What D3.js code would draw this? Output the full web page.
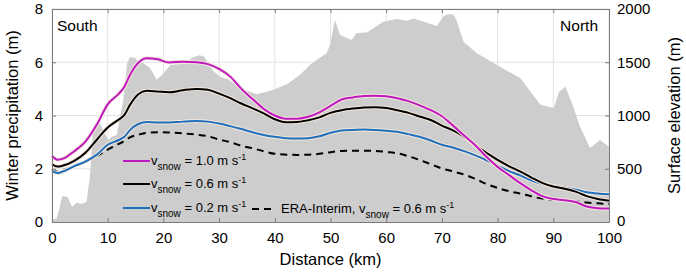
<!DOCTYPE html>
<html>
<head>
<meta charset="utf-8">
<script src="https://cdn.jsdelivr.net/npm/d3@7"></script>
<style>
  body { margin: 0; background: #fff; }
  svg { display: block; font-family: "Liberation Sans", Arial, sans-serif; }
</style>
</head>
<body>
<div id="chart"></div>
<script>
// distance grid for precipitation curves (km)
const distKm = [0, 1, 2, 4, 6, 8, 10, 12, 13, 14, 15.5, 17, 19, 21, 23.5, 26, 28, 30, 32, 34, 36, 38, 40,
  42, 44, 46, 48, 50, 52, 54, 56, 58, 60, 62, 64, 66, 68, 70, 72, 74, 76, 78, 80, 82, 84, 86, 88, 90,
  92, 94, 96, 98, 100];

// winter precipitation (m)
const snow10 = [2.48, 2.34, 2.38, 2.66, 3.02, 3.64, 4.42, 4.82, 5.08, 5.52, 5.98, 6.15, 6.11, 5.99, 6.02, 6.0,
  5.93, 5.75, 5.46, 5.0, 4.62, 4.25, 4.0, 3.88, 3.88, 3.95, 4.12, 4.36, 4.6, 4.68, 4.73, 4.74, 4.72, 4.65,
  4.54, 4.38, 4.2, 3.97, 3.62, 3.25, 2.88, 2.45, 2.07, 1.77, 1.47, 1.2, 0.97, 0.86, 0.82, 0.75, 0.58, 0.52, 0.51];
const snow06 = [2.17, 2.08, 2.12, 2.3, 2.6, 3.08, 3.55, 3.85, 4.02, 4.4, 4.8, 4.93, 4.9, 4.87, 4.95, 5.0,
  4.97, 4.82, 4.65, 4.45, 4.27, 4.08, 3.86, 3.75, 3.76, 3.82, 3.93, 4.1, 4.2, 4.26, 4.3, 4.31, 4.28, 4.2,
  4.1, 3.96, 3.83, 3.62, 3.44, 3.2, 2.88, 2.6, 2.33, 2.1, 1.9, 1.68, 1.47, 1.33, 1.25, 1.14, 0.97, 0.86, 0.8];
const snow02 = [1.92, 1.84, 1.9, 2.1, 2.27, 2.52, 2.9, 3.08, 3.2, 3.45, 3.68, 3.76, 3.74, 3.74, 3.77, 3.79,
  3.77, 3.7, 3.6, 3.49, 3.37, 3.27, 3.2, 3.15, 3.14, 3.15, 3.22, 3.35, 3.44, 3.46, 3.47, 3.46, 3.43, 3.39,
  3.3, 3.2, 3.06, 2.9, 2.8, 2.66, 2.5, 2.32, 2.12, 1.92, 1.75, 1.57, 1.43, 1.35, 1.3, 1.22, 1.12, 1.07, 1.04];
const eraInterim = [1.98, 1.89, 1.95, 2.1, 2.27, 2.48, 2.72, 2.93, 3.05, 3.18, 3.28, 3.35, 3.37, 3.36, 3.33, 3.28,
  3.22, 3.1, 3.0, 2.86, 2.77, 2.66, 2.56, 2.53, 2.52, 2.53, 2.56, 2.62, 2.67, 2.68, 2.68, 2.67, 2.63, 2.58,
  2.47, 2.33, 2.17, 2.01, 1.9, 1.78, 1.62, 1.43, 1.28, 1.16, 1.07, 0.97, 0.88, 0.83, 0.81, 0.78, 0.73, 0.7, 0.68];

// surface elevation profile
const elevKm = [0, 0.8, 1.3, 1.8, 2.5, 2.9, 3.6, 4.4, 5.3, 6.2, 6.8, 7.4, 8, 8.6, 9.5, 10.1, 10.7, 11.6, 12.8,
  13.5, 14, 14.9, 15.2, 16.4, 17.6, 18.8, 20, 21.2, 23.6, 25.4, 26.5, 27.3, 28.9, 30.2, 31.6, 33.8, 36.7,
  39.1, 42.1, 44.5, 46.3, 47.5, 49.3, 49.9, 50.8, 51.7, 53.8, 54.7, 56.5, 59.5, 61.9, 63.7, 64.9, 67.3,
  69.1, 70.3, 71.2, 72.1, 72.6, 73.9, 76.3, 80.5, 84.1, 87.7, 90.1, 91, 92.2, 93.6, 94.8, 96.6, 98.4, 100];
const elevM = [28, 30, 120, 240, 240, 225, 140, 180, 170, 190, 425, 895, 940, 925, 830, 770, 800, 815, 1145,
  1490, 1550, 1540, 1520, 1490, 1445, 1335, 1395, 1475, 1485, 1550, 1565, 1555, 1420, 1365, 1340, 1255, 1200,
  1230, 1290, 1380, 1475, 1520, 1585, 1660, 1900, 1755, 1710, 1775, 1780, 1880, 1905, 1890, 1910, 1870,
  1840, 1935, 1950, 1945, 1900, 1690, 1585, 1455, 1350, 1100, 1070, 1220, 1270, 1080, 895, 695, 770, 707];

const xTicks = [0, 10, 20, 30, 40, 50, 60, 70, 80, 90, 100];
const yTicks = [0, 2, 4, 6, 8];
const elevTicks = [0, 500, 1000, 1500, 2000];

const width = 686, height = 273;
const margin = {top: 9, right: 77, bottom: 51, left: 52};
const axisGrey = "#7a7a7a";

const svg = d3.select("#chart").append("svg")
    .attr("width", width)
    .attr("height", height);

const x = d3.scaleLinear().domain([0, 100]).range([margin.left, width - margin.right]);
const y = d3.scaleLinear().domain([0, 8]).range([height - margin.bottom, margin.top]);
const yElev = d3.scaleLinear().domain([0, 2000]).range([height - margin.bottom, margin.top]);

// grid lines (under the terrain)
svg.append("g")
  .selectAll("line.vg")
  .data(xTicks)
  .join("line")
    .attr("x1", d => x(d)).attr("x2", d => x(d))
    .attr("y1", y(0)).attr("y2", y(8))
    .attr("stroke", "#e3e3e3").attr("stroke-width", 1);
svg.append("g")
  .selectAll("line.hg")
  .data(yTicks)
  .join("line")
    .attr("x1", x(0)).attr("x2", x(100))
    .attr("y1", d => y(d)).attr("y2", d => y(d))
    .attr("stroke", "#e3e3e3").attr("stroke-width", 1);

// terrain area
const terrain = elevKm.map((k, i) => ({km: k, e: elevM[i]}));
svg.append("path")
  .datum(terrain)
  .attr("d", d3.area().x(d => x(d.km)).y0(yElev(0)).y1(d => yElev(d.e)))
  .attr("fill", "#cdcdcd");

// precipitation lines
const series = [
  {vals: eraInterim, color: "#000", dash: "7,5"},
  {vals: snow02, color: "#1f6fbf"},
  {vals: snow06, color: "#000"},
  {vals: snow10, color: "#bf18bf"}
];
const line = d3.line()
    .x(d => x(d[0]))
    .y(d => y(d[1]))
    .curve(d3.curveMonotoneX);

series.forEach(s => {
  const pts = distKm.map((k, i) => [k, s.vals[i]]);
  // light halo under the solid lines
  if (!s.dash) {
    svg.append("path")
      .attr("d", line(pts))
      .attr("fill", "none")
      .attr("stroke", "#f4e7da")
      .attr("stroke-width", 4);
  }
  svg.append("path")
    .attr("d", line(pts))
    .attr("fill", "none")
    .attr("stroke", s.color)
    .attr("stroke-width", 2)
    .attr("stroke-dasharray", s.dash || null);
});

// axes with inward ticks
function styleAxis(g) {
  g.select(".domain").attr("stroke", axisGrey);
  g.selectAll(".tick line").attr("stroke", axisGrey);
  g.selectAll(".tick text").attr("fill", "#000").style("font-size", "15px")
    .style("font-family", "'Liberation Sans', Arial, sans-serif");
}

svg.append("g")
  .attr("transform", `translate(0,${y(0)})`)
  .call(d3.axisBottom(x).tickValues(xTicks).tickSizeInner(-4).tickSizeOuter(0).tickPadding(10))
  .call(styleAxis);
svg.append("g")
  .attr("transform", `translate(0,${y(8)})`)
  .call(d3.axisTop(x).tickValues(xTicks).tickSizeInner(-4).tickSizeOuter(0).tickFormat(""))
  .call(styleAxis);
svg.append("g")
  .attr("transform", `translate(${x(0)},0)`)
  .call(d3.axisLeft(y).tickValues(yTicks).tickSizeInner(-4).tickSizeOuter(0).tickPadding(9))
  .call(styleAxis);
svg.append("g")
  .attr("transform", `translate(${x(100)},0)`)
  .call(d3.axisRight(yElev).tickValues(elevTicks).tickFormat(d3.format("d"))
    .tickSizeInner(-4).tickSizeOuter(0).tickPadding(8))
  .call(styleAxis)
  .call(g => g.selectAll(".tick text").filter(d => d === 0).attr("dy", "0.2em"));

// axis titles
svg.append("text")
  .attr("x", (x(0) + x(100)) / 2)
  .attr("y", 265)
  .attr("text-anchor", "middle")
  .style("font-size", "16.5px")
  .text("Distance (km)");
svg.append("text")
  .attr("transform", `translate(18,${(y(0) + y(8)) / 2}) rotate(-90)`)
  .attr("text-anchor", "middle")
  .style("font-size", "16.5px")
  .text("Winter precipitation (m)");
svg.append("text")
  .attr("transform", `translate(680,${(y(0) + y(8)) / 2}) rotate(-90)`)
  .attr("text-anchor", "middle")
  .style("font-size", "16.5px")
  .text("Surface elevation (m)");

// South / North
svg.append("text").attr("x", 57).attr("y", 31).style("font-size", "15.5px").text("South");
svg.append("text").attr("x", 598).attr("y", 31).attr("text-anchor", "end").style("font-size", "15.5px").text("North");

// legend
const legendRows = [
  {color: "#bf18bf", label: "1.0", x0: 123, yy: 161},
  {color: "#000", label: "0.6", x0: 123, yy: 184},
  {color: "#1f6fbf", label: "0.2", x0: 123, yy: 208}
];

function legendText(g, xPos, yPos, prefix, val) {
  const t = g.append("text")
    .attr("x", xPos)
    .attr("y", yPos + 4)
    .style("font-size", "13px");
  t.append("tspan").text(prefix + "v");
  t.append("tspan").attr("dy", 5).style("font-size", "10px").text("snow");
  t.append("tspan").attr("dy", -5).text(` = ${val} m s`);
  t.append("tspan").attr("dy", -5).style("font-size", "9px").text("-1");
}

const legend = svg.append("g");
legendRows.forEach(r => {
  legend.append("line")
    .attr("x1", r.x0).attr("x2", r.x0 + 27)
    .attr("y1", r.yy).attr("y2", r.yy)
    .attr("stroke", r.color).attr("stroke-width", 2);
  legendText(legend, r.x0 + 28, r.yy, "", r.label);
});
legend.append("line")
  .attr("x1", 252).attr("x2", 274)
  .attr("y1", 209).attr("y2", 209)
  .attr("stroke", "#000").attr("stroke-width", 2)
  .attr("stroke-dasharray", "7,5");
legendText(legend, 281, 209, "ERA-Interim, ", "0.6");
</script>
</body>
</html>
